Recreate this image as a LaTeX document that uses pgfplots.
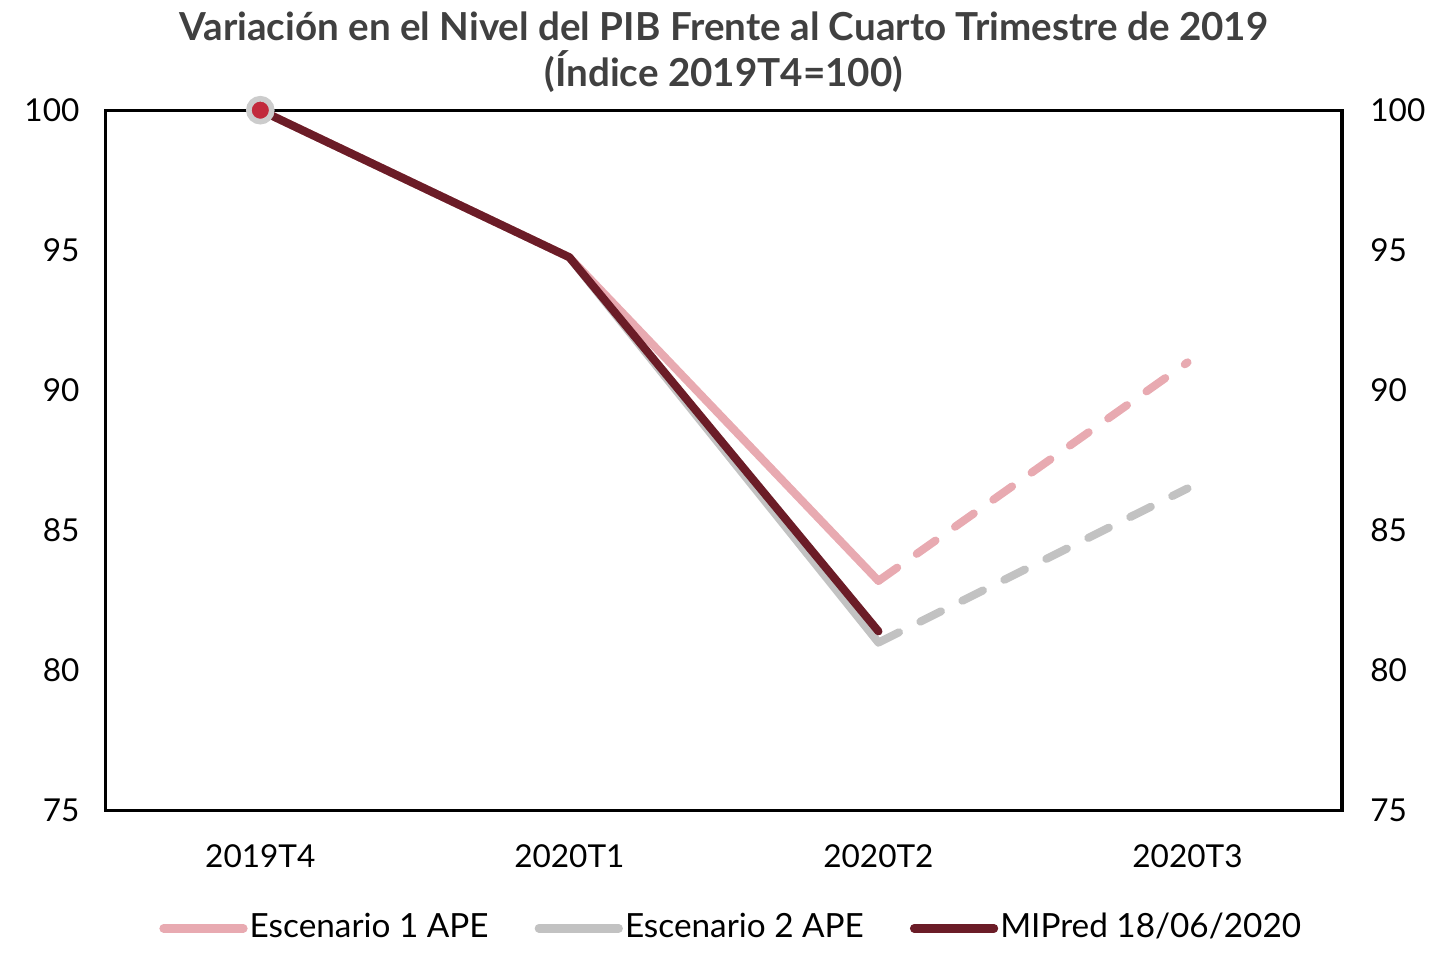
\documentclass[border=0pt]{standalone}
\usepackage{fontspec}
\setmainfont{Lato}
\usepackage{pgfplots}
\pgfplotsset{compat=1.18}
\definecolor{esc1}{HTML}{E8AAB1}
\definecolor{esc2}{HTML}{C2C2C2}
\definecolor{mipred}{HTML}{6B1C27}
\definecolor{dotred}{HTML}{C22A3C}

\begin{document}
\begin{tikzpicture}
\begin{axis}[
  name=main,
  scale only axis, width=12.39cm, height=7.02cm,
  xmin=-0.5, xmax=3.5, ymin=75, ymax=100,
  xtick={0,1,2,3}, xticklabels={2019T4,2020T1,2020T2,2020T3},
  ytick={75,80,85,90,95,100},
  major tick length=0pt,
  axis line style={line width=0.9pt},
  tick label style={font=\fontsize{9}{11}\selectfont},
  /pgf/number format/assume math mode=true,
  yticklabel style={xshift=-1.4mm},
  xticklabel style={yshift=-2.2mm},
  title={Variación en el Nivel del PIB Frente al Cuarto Trimestre de 2019\\(Índice 2019T4=100)},
  title style={align=center, yshift=-1.6mm, text=black!75,
    font=\fontsize{11}{13.2}\selectfont\bfseries},
  legend columns=3,
  legend style={draw=none, fill=none, at={(0.506,-0.168)}, anchor=center,
    font=\fontsize{9.5}{11}\selectfont, column sep=0pt,
    nodes={inner sep=0.6pt},
    /tikz/every even column/.append style={column sep=4.4mm}},
  legend image code/.code={\draw[#1, solid] plot coordinates {(0cm,0cm) (0.8cm,0cm)};},
  clip=false,
]
\addlegendimage{esc1, line width=2.4pt, line cap=round}
\addlegendentry{Escenario 1 APE}
\addlegendimage{esc2, line width=2.4pt, line cap=round}
\addlegendentry{Escenario 2 APE}
\addlegendimage{mipred, line width=2.4pt, line cap=round}
\addlegendentry{MIPred 18/06/2020}
% solid parts
\addplot[esc2, line width=2.3pt, line cap=round, line join=round, forget plot] coordinates {(0,100) (1,94.75) (2,81.0)};
\addplot[esc1, line width=2.3pt, line cap=round, line join=round, forget plot] coordinates {(0,100) (1,94.75) (2,83.2)};
\addplot[mipred, line width=2.3pt, line cap=round, line join=round, forget plot] coordinates {(0,100) (1,94.75) (2,81.4)};
% dashed projections
\addplot[esc2, line width=2.3pt, line cap=round, dash pattern=on 2.3mm off 2.4mm, forget plot] coordinates {(2,81.0) (3,86.5)};
\addplot[esc1, line width=2.3pt, line cap=round, dash pattern=on 2.3mm off 2.4mm, forget plot] coordinates {(2,83.2) (3,91.0)};
% marker at base point
\addplot[only marks, mark=*, mark size=1.15mm, mark options={fill=dotred, draw=gray!40, line width=1.6pt}, forget plot] coordinates {(0,100)};
\end{axis}
\begin{axis}[
  scale only axis, width=12.39cm, height=7.02cm,
  xmin=-0.5, xmax=3.5, ymin=75, ymax=100,
  axis x line=none, axis y line*=right, axis line style={draw=none},
  ytick={75,80,85,90,95,100},
  major tick length=0pt,
  tick label style={font=\fontsize{9}{11}\selectfont},
  /pgf/number format/assume math mode=true,
  yticklabel style={xshift=1.6mm},
]
\addplot[draw=none] coordinates {(0,90)};
\end{axis}
\path (main.south west) ++(-1.06cm,-1.31cm);
\path (main.north east) ++(0.92cm,1.10cm);
\end{tikzpicture}
\end{document}
